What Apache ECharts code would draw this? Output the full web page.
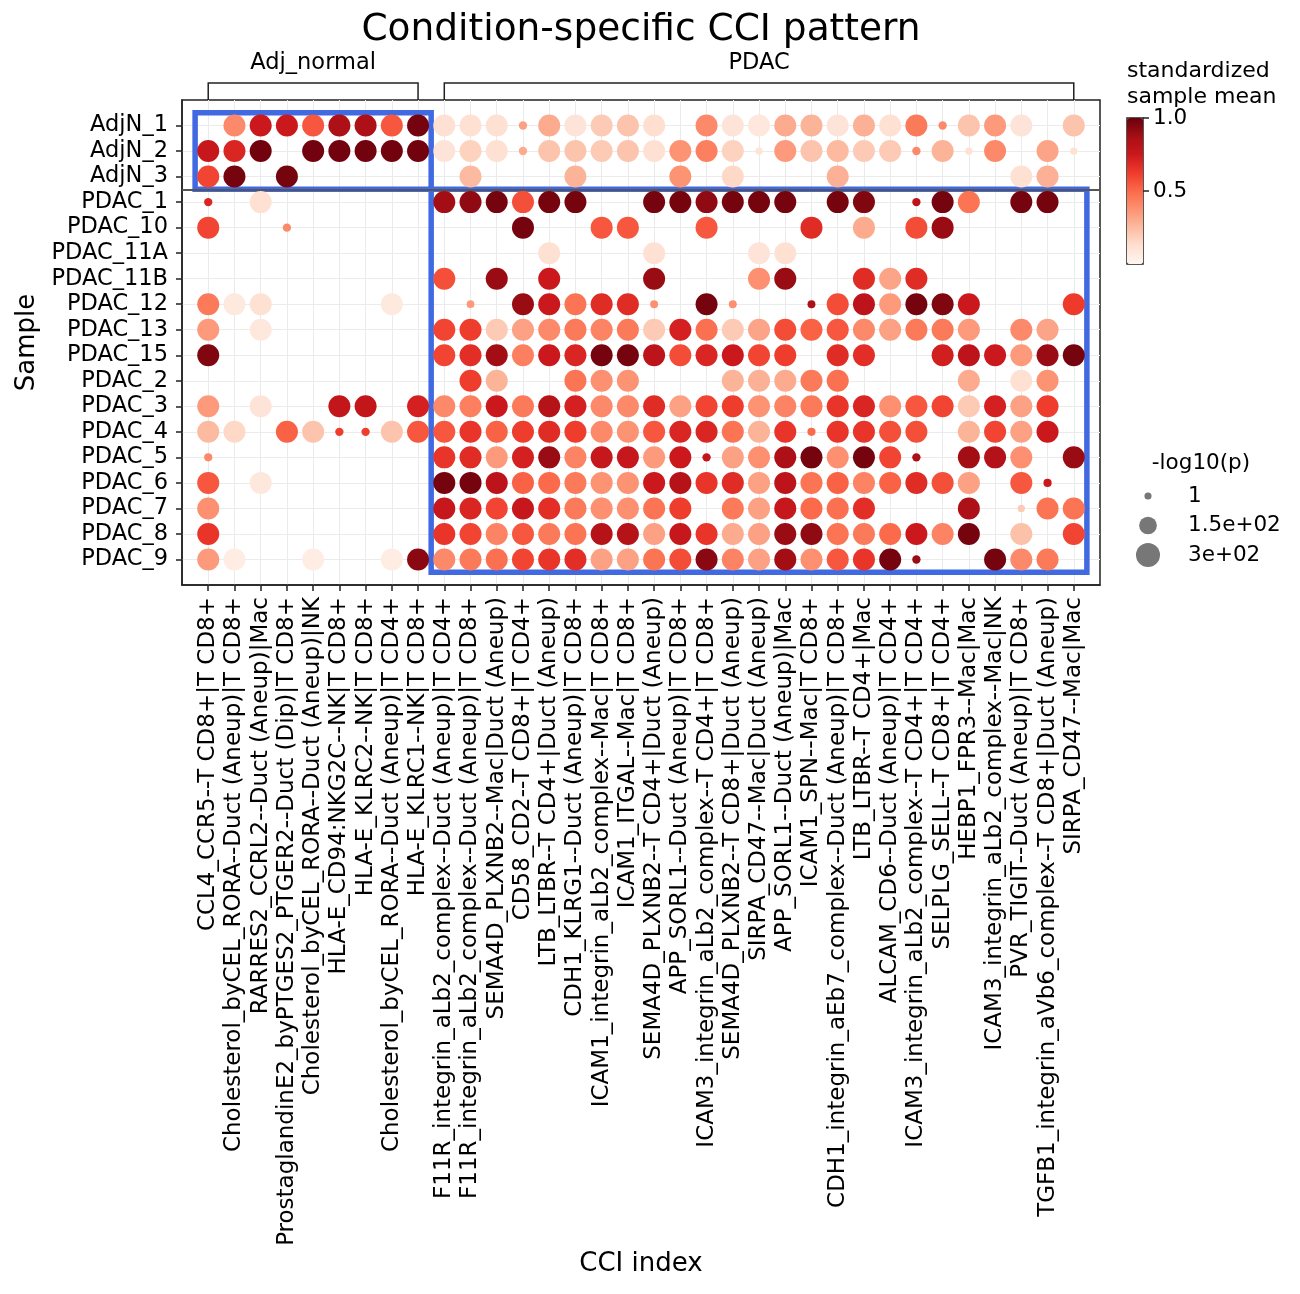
<!DOCTYPE html>
<html>
<head>
<meta charset="utf-8">
<script src="https://cdn.jsdelivr.net/npm/echarts@6/dist/echarts.min.js"></script>
<style>
  html, body { margin: 0; padding: 0; background: #fff; }
  #main { width: 1300px; height: 1294px; }
</style>
</head>
<body>
<div id="main"></div>
<script>
// CCI pairs (x axis), left to right
var cciIndex = [
  'CCL4_CCR5--T CD8+|T CD8+',
  'Cholesterol_byCEL_RORA--Duct (Aneup)|T CD8+',
  'RARRES2_CCRL2--Duct (Aneup)|Mac',
  'ProstaglandinE2_byPTGES2_PTGER2--Duct (Dip)|T CD8+',
  'Cholesterol_byCEL_RORA--Duct (Aneup)|NK',
  'HLA-E_CD94:NKG2C--NK|T CD8+',
  'HLA-E_KLRC2--NK|T CD8+',
  'Cholesterol_byCEL_RORA--Duct (Aneup)|T CD4+',
  'HLA-E_KLRC1--NK|T CD8+',
  'F11R_integrin_aLb2_complex--Duct (Aneup)|T CD4+',
  'F11R_integrin_aLb2_complex--Duct (Aneup)|T CD8+',
  'SEMA4D_PLXNB2--Mac|Duct (Aneup)',
  'CD58_CD2--T CD8+|T CD4+',
  'LTB_LTBR--T CD4+|Duct (Aneup)',
  'CDH1_KLRG1--Duct (Aneup)|T CD8+',
  'ICAM1_integrin_aLb2_complex--Mac|T CD8+',
  'ICAM1_ITGAL--Mac|T CD8+',
  'SEMA4D_PLXNB2--T CD4+|Duct (Aneup)',
  'APP_SORL1--Duct (Aneup)|T CD8+',
  'ICAM3_integrin_aLb2_complex--T CD4+|T CD8+',
  'SEMA4D_PLXNB2--T CD8+|Duct (Aneup)',
  'SIRPA_CD47--Mac|Duct (Aneup)',
  'APP_SORL1--Duct (Aneup)|Mac',
  'ICAM1_SPN--Mac|T CD8+',
  'CDH1_integrin_aEb7_complex--Duct (Aneup)|T CD8+',
  'LTB_LTBR--T CD4+|Mac',
  'ALCAM_CD6--Duct (Aneup)|T CD4+',
  'ICAM3_integrin_aLb2_complex--T CD4+|T CD4+',
  'SELPLG_SELL--T CD8+|T CD4+',
  'HEBP1_FPR3--Mac|Mac',
  'ICAM3_integrin_aLb2_complex--Mac|NK',
  'PVR_TIGIT--Duct (Aneup)|T CD8+',
  'TGFB1_integrin_aVb6_complex--T CD8+|Duct (Aneup)',
  'SIRPA_CD47--Mac|Mac'
];

// samples (y axis), top to bottom
var samples = ['AdjN_1', 'AdjN_2', 'AdjN_3', 'PDAC_1', 'PDAC_10', 'PDAC_11A', 'PDAC_11B',
  'PDAC_12', 'PDAC_13', 'PDAC_15', 'PDAC_2', 'PDAC_3', 'PDAC_4', 'PDAC_5', 'PDAC_6',
  'PDAC_7', 'PDAC_8', 'PDAC_9'];

// condition brackets on top: name, first and last column
var groupNames = ['Adj_normal', 'PDAC'];
var groupFirst = [0, 9];
var groupLast = [8, 33];

// standardized sample mean, one row per sample (_ = no dot)
var _ = null;
var meanVals = [
  [_, .40, .75, .75, .55, .85, .85, .55, .97, .12, .12, .12, .33, .30, .10, .20, .22, .13, _, .40, .10, .08, .30, .27, .10, .28, .12, .45, .40, .22, .35, .10, _, .22],
  [.77, .70, .98, _, .98, .98, .98, .98, .98, .10, .17, .12, .30, .22, .22, .20, .22, .12, .37, .43, .17, .10, .35, .22, .25, .20, .20, .40, .27, .12, .40, _, .32, .12],
  [.60, .97, _, .97, _, _, _, _, _, _, .25, _, _, _, .27, _, _, _, .37, _, .15, _, _, _, .28, _, _, _, _, _, _, .12, .28, _],
  [.70, _, .12, _, _, _, _, _, _, .88, .92, .97, .57, .97, .97, _, _, .97, .97, .92, .97, .97, .97, _, .97, .95, _, .80, .97, .47, _, .97, .97, _],
  [.60, _, _, .40, _, _, _, _, _, _, _, _, .97, _, _, .55, .55, _, _, .55, _, _, _, .68, _, .30, _, .58, .90, _, _, _, _, _],
  [_, _, _, _, _, _, _, _, _, _, _, _, _, .12, _, _, _, .12, _, _, _, .10, .12, _, _, _, _, _, _, _, _, _, _, _],
  [_, _, _, _, _, _, _, _, _, .57, _, .90, _, .75, _, _, _, .90, _, _, _, .38, .90, _, _, .68, .32, .68, _, _, _, _, _, _],
  [.45, .07, .12, _, _, _, _, .07, _, _, .35, _, .90, .75, .47, .68, .68, .38, _, .97, .38, _, _, .85, .58, .80, .35, .97, .95, .75, _, _, _, .63],
  [.35, _, .08, _, _, _, _, _, _, .60, .62, .20, .33, .40, .45, .42, .45, .20, .72, .48, .20, .32, .58, .52, .55, .40, .33, .45, .45, .35, _, .40, .32, _],
  [.95, _, _, _, _, _, _, _, _, .60, .67, .88, .43, .75, .70, .97, .97, .80, .58, .70, .75, .60, .62, _, .68, .67, _, _, .73, .80, .75, .35, .90, .97],
  [_, _, _, _, _, _, _, _, _, _, .62, .27, _, _, .47, .38, .37, _, _, _, .27, .28, .30, .45, .48, _, _, _, _, .30, _, .12, .37, _],
  [.35, _, .10, _, _, .78, .78, _, .72, .40, .43, .75, .45, .82, .72, .40, .40, .68, .33, .60, .62, .37, .42, .45, .65, .70, .38, .55, .60, .20, .72, .33, .62, _],
  [.25, .15, _, .52, .22, .62, .62, .22, .55, .55, .65, .52, .62, .68, .62, .40, .37, .55, .70, .70, .47, .27, .65, .50, .65, .65, .57, .57, _, .27, .60, .33, .75, _],
  [.40, _, _, _, _, _, _, _, _, .65, .68, .35, .72, .90, .42, .77, .77, .35, .75, .78, .33, .38, .85, .97, .38, .97, .60, .85, _, .88, .83, .38, _, .90],
  [.55, _, .08, _, _, _, _, _, _, .97, .97, .80, .52, .50, .45, .37, .37, .75, .82, .65, .68, .33, .80, .47, .52, .42, .52, .68, .57, .33, _, .55, .75, _],
  [.38, _, _, _, _, _, _, _, _, .77, .70, .60, .77, .67, .45, .38, .38, .47, .62, _, .45, .33, .77, .50, .48, .67, _, _, _, .85, _, .20, .47, .47],
  [.65, _, _, _, _, _, _, _, _, .65, .60, .42, .55, .45, .47, .82, .82, .33, .77, .65, .30, .33, .90, .92, .47, .45, .50, .75, .42, .97, _, .23, _, .60],
  [.35, .05, _, _, .05, _, _, .05, .93, .40, .45, .48, .60, .65, .67, .33, .33, .47, .58, .93, .42, .33, .88, .38, .55, .65, .97, .90, _, _, .97, .40, .45, _]
];

// -log10(p): nearly all dots sit at the top size; the small ones are listed [row, col, value]
var logPTop = 247;
var logPSmall = [
  [0, 12, 12], [0, 28, 12],
  [1, 12, 12], [1, 21, 2], [1, 27, 12], [1, 29, 2], [1, 33, 2],
  [3, 0, 12], [3, 27, 12],
  [4, 3, 12],
  [7, 10, 6], [7, 17, 8], [7, 20, 8], [7, 23, 8],
  [12, 5, 12], [12, 6, 12], [12, 23, 10],
  [13, 0, 10], [13, 19, 12], [13, 27, 12],
  [14, 32, 10],
  [15, 31, 2],
  [17, 27, 12]
];

// size legend
var sizeLegendVals = [1, 150, 300];
var sizeLegendText = ['1', '1.5e+02', '3e+02'];

// colour bar ticks
var cbarTicks = [1.0, 0.5];
var cbarTickText = ['1.0', '0.5'];

var REDS = ['#fff5f0', '#fee0d2', '#fcbba1', '#fc9272', '#fb6a4a', '#ef3b2c', '#cb181d', '#a50f15', '#67000d'];
var FONT = 'DejaVu Sans';

function sizeOf(v) {
  return Math.sqrt(49 + 1.76 * v);
}

var pLookup = {};
logPSmall.forEach(function (s) { pLookup[s[0] + '_' + s[1]] = s[2]; });

var dots = [];
meanVals.forEach(function (row, r) {
  row.forEach(function (m, c) {
    if (m === null) return;
    var p = pLookup[r + '_' + c];
    dots.push([c, r, m, p === undefined ? logPTop : p]);
  });
});

var colIdx = cciIndex.map(function (d, i) { return i; });
var rowIdx = samples.map(function (d, i) { return i; });

var chart = echarts.init(document.getElementById('main'));

var option = {
  animation: false,
  title: {
    text: 'Condition-specific CCI pattern',
    left: 641, top: 11, textAlign: 'center', padding: 0,
    textStyle: { fontFamily: FONT, fontSize: 37.5, fontWeight: 'normal', color: '#000' }
  },
  grid: {
    left: 182, top: 100, width: 918, height: 485,
    show: true, borderColor: '#222', borderWidth: 1.5
  },
  xAxis: {
    type: 'value', min: -1, max: 34, interval: 1,
    name: 'CCI index', nameLocation: 'middle', nameGap: 666,
    nameTextStyle: { fontFamily: FONT, fontSize: 26, color: '#000' },
    axisLine: { show: true, onZero: false, lineStyle: { color: '#222', width: 1.5 } },
    axisTick: { show: true, length: 6, customValues: colIdx, lineStyle: { color: '#222', width: 1.5 } },
    axisLabel: {
      customValues: colIdx, rotate: 90, margin: 12,
      fontFamily: FONT, fontSize: 23, color: '#000',
      formatter: function (v) { return cciIndex[v] || ''; }
    },
    splitLine: { show: true, lineStyle: { color: '#ebebeb', width: 1 } }
  },
  yAxis: {
    type: 'value', min: -1, max: 18, interval: 1, inverse: true,
    name: 'Sample', nameLocation: 'middle', nameGap: 141,
    nameTextStyle: { fontFamily: FONT, fontSize: 26, color: '#000' },
    axisLine: { show: true, onZero: false, lineStyle: { color: '#222', width: 1.5 } },
    axisTick: { show: true, length: 6, customValues: rowIdx, lineStyle: { color: '#222', width: 1.5 } },
    axisLabel: {
      customValues: rowIdx, margin: 14,
      fontFamily: FONT, fontSize: 22.5, color: '#000',
      formatter: function (v) { return samples[v] || ''; }
    },
    splitLine: { show: true, lineStyle: { color: '#ebebeb', width: 1 } }
  },
  visualMap: {
    type: 'continuous', min: 0, max: 1, dimension: 2, seriesIndex: 0,
    left: 1127, top: 118, itemWidth: 16, itemHeight: 146,
    calculable: false, hoverLink: false, padding: 0,
    inRange: { color: REDS }
  },
  series: [{
    type: 'scatter',
    data: dots,
    symbolSize: function (d) { return sizeOf(d[3]); },
    itemStyle: { opacity: 1 },
    markLine: {
      silent: true, symbol: 'none', label: { show: false },
      lineStyle: { color: '#555', width: 2, type: 'solid' },
      data: [{ yAxis: 2.5 }]
    },
    markArea: {
      silent: true,
      itemStyle: { color: 'rgba(0,0,0,0)', borderColor: '#4169e1', borderWidth: 5.5 },
      data: [
        [{ coord: [-0.5, -0.5] }, { coord: [8.5, 2.5] }],
        [{ coord: [8.5, 2.5] }, { coord: [33.5, 17.5] }]
      ]
    }
  }]
};

chart.setOption(option);

// annotations placed through the grid's own coordinate conversion
function px(x, y) { return chart.convertToPixel({ gridIndex: 0 }, [x, y]); }
var els = [];
var gTop = px(0, -1)[1];
var brY = gTop - 17;
groupNames.forEach(function (name, i) {
  var a = px(groupFirst[i], 0)[0];
  var b = px(groupLast[i], 0)[0];
  els.push({
    type: 'polyline', silent: true,
    shape: { points: [[a, gTop], [a, brY], [b, brY], [b, gTop]] },
    style: { stroke: '#222', lineWidth: 1.5, fill: null }
  });
  els.push({
    type: 'text', silent: true, x: (a + b) / 2, y: brY - 8,
    style: { text: name, fontFamily: FONT, fontSize: 22.5, fill: '#000', align: 'center', verticalAlign: 'bottom' }
  });
});

// colour bar frame, ticks and title
var cb = option.visualMap;
els.push({
  type: 'rect', silent: true,
  shape: { x: cb.left, y: cb.top, width: cb.itemWidth, height: cb.itemHeight },
  style: { fill: null, stroke: '#222', lineWidth: 1.5 }
});
cbarTicks.forEach(function (t, i) {
  var y = cb.top + cb.itemHeight * (1 - (t - cb.min) / (cb.max - cb.min));
  var x0 = cb.left + cb.itemWidth;
  els.push({ type: 'line', silent: true, shape: { x1: x0, y1: y, x2: x0 + 6, y2: y }, style: { stroke: '#222', lineWidth: 1.5 } });
  els.push({ type: 'text', silent: true, x: x0 + 10, y: y,
    style: { text: cbarTickText[i], fontFamily: FONT, fontSize: 21.5, fill: '#000', verticalAlign: 'middle' } });
});
els.push({ type: 'text', silent: true, x: cb.left, y: 84,
  style: { text: 'standardized\nsample mean', fontFamily: FONT, fontSize: 22, lineHeight: 26, fill: '#000', verticalAlign: 'middle' } });

// size legend
els.push({ type: 'text', silent: true, x: 1201, y: 463,
  style: { text: '-log10(p)', fontFamily: FONT, fontSize: 21.5, fill: '#000', align: 'center', verticalAlign: 'middle' } });
sizeLegendVals.forEach(function (v, i) {
  var y = 496 + i * 29.5;
  els.push({ type: 'circle', silent: true, shape: { cx: 1148, cy: y, r: sizeOf(v) / 2 }, style: { fill: '#777' } });
  els.push({ type: 'text', silent: true, x: 1188, y: y,
    style: { text: sizeLegendText[i], fontFamily: FONT, fontSize: 21.5, fill: '#000', verticalAlign: 'middle' } });
});

chart.setOption({ graphic: { elements: els } });
</script>
</body>
</html>
